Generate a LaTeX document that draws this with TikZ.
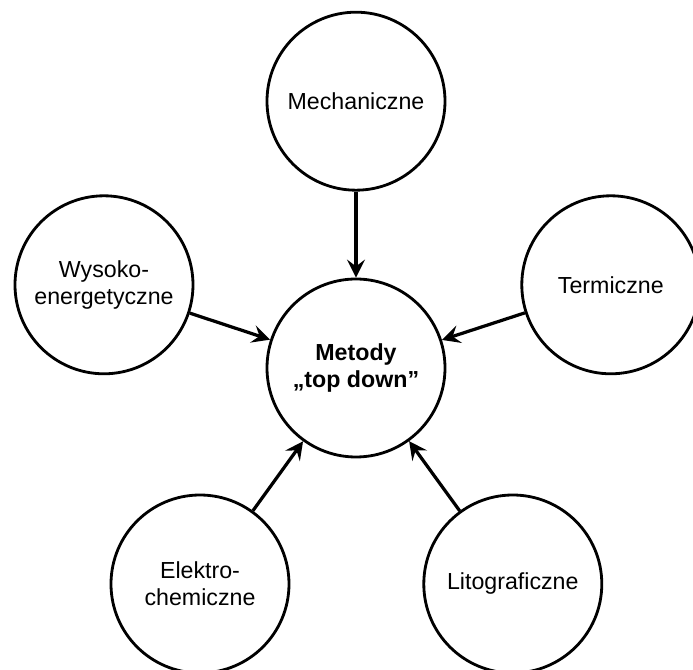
\documentclass[tikz,border=0pt]{standalone}
\usepackage{fontspec}
\setmainfont{Liberation Sans}
\usetikzlibrary{arrows.meta, positioning}

\begin{document}
\begin{tikzpicture}[
    every node/.style={font=\fontsize{16.5}{19.5}\selectfont},
    ball/.style={draw, circle, line width=2pt, minimum size=4.45cm,
                 inner sep=0pt, align=center},
    arr/.style={-{Stealth[length=4.5mm, width=4.5mm, inset=1.7mm]}, line width=2.3pt}
]
    \useasboundingbox (-8.9,-7.55) rectangle (8.425,9.2);

    \node[ball, font=\fontsize{16.5}{19.5}\selectfont\bfseries] (metody) at (0, 0)
        {Metody\\„top down”};
    \node[ball] (mech)  at (0, 6.67)      {Mechaniczne};
    \node[ball] (wys)   at (-6.3, 2.08)   {Wysoko-\\energetyczne};
    \node[ball] (term)  at (6.37, 2.08)   {Termiczne};
    \node[ball] (elek)  at (-3.9, -5.4)   {Elektro-\\chemiczne};
    \node[ball] (lito)  at (3.92, -5.4)   {Litograficzne};

    \draw[arr] (mech) -- (metody);
    \draw[arr] (wys)  -- (metody);
    \draw[arr] (term) -- (metody);
    \draw[arr] (elek) -- (metody);
    \draw[arr] (lito) -- (metody);
\end{tikzpicture}
\end{document}
